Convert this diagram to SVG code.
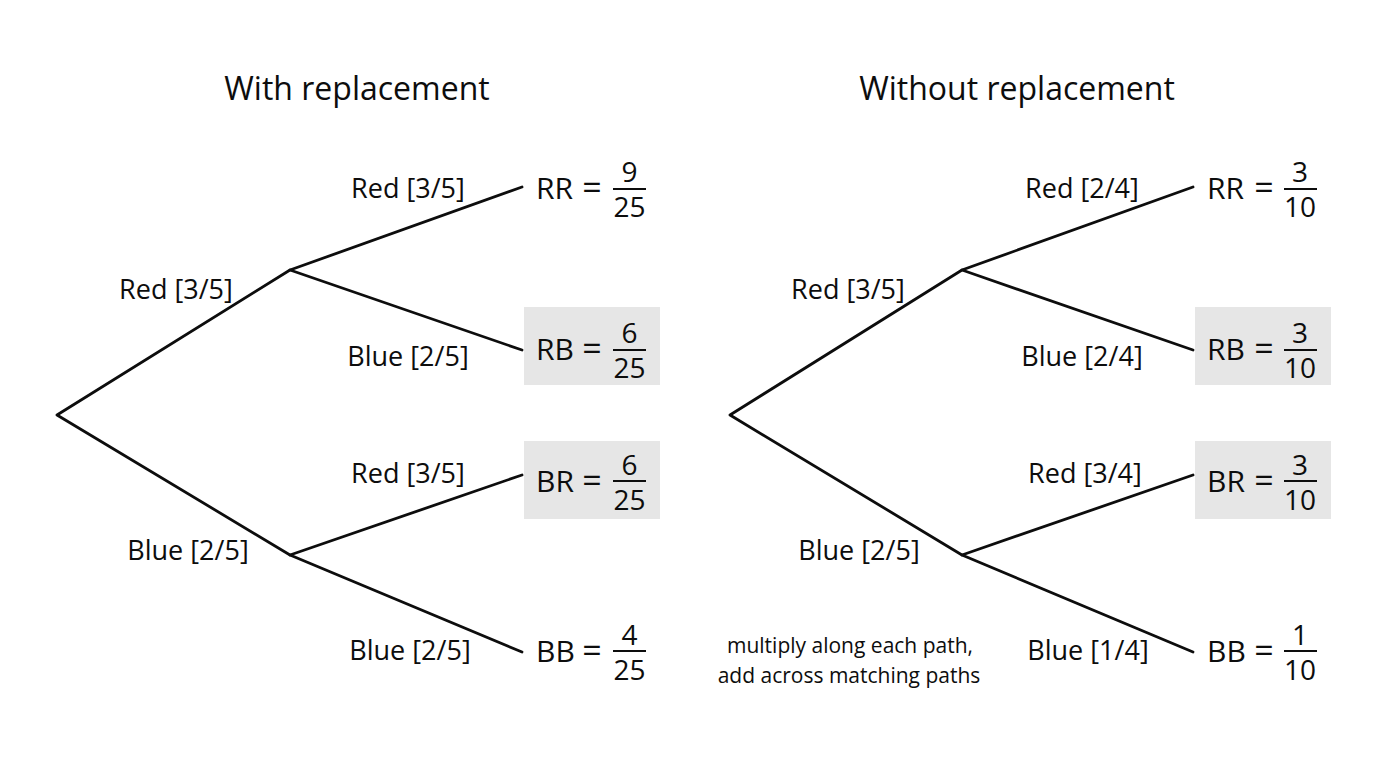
<svg xmlns="http://www.w3.org/2000/svg" width="1376" height="768" viewBox="0 0 1376 768">
<style>
.t{font-family:"Open Sans","Noto Sans","Liberation Sans",sans-serif;fill:#0d0d0d}
.title{font-size:32px;text-anchor:middle}
.br{font-size:27px;text-anchor:middle}
.res{font-size:30px}
.eq{font-size:34px;text-anchor:middle}
.num{font-size:28px;text-anchor:middle}
.note{font-size:21px;text-anchor:middle}
.edge{stroke:#0d0d0d;stroke-width:2.8;fill:none;stroke-linecap:round;stroke-linejoin:round}
.bar{stroke:#0d0d0d;stroke-width:2.2}
.box{fill:#e6e6e6}
</style>
<rect width="1376" height="768" fill="#ffffff"/>
<text class="t title" x="357" y="100">With replacement</text>
<text class="t title" x="1017" y="100">Without replacement</text>

<g id="connectors">
<path class="edge" d="M290,270 L57,415 L290,555"/>
<path class="edge" d="M522,187 L290,270 L522,350"/>
<path class="edge" d="M522,475 L290,555 L522,652"/>
<path class="edge" d="M962,270 L730,415 L962,555"/>
<path class="edge" d="M1193,187 L962,270 L1193,350"/>
<path class="edge" d="M1193,475 L962,555 L1193,652"/>
</g>

<g id="left-labels">
<text class="t br" x="176" y="299">Red [3/5]</text>
<text class="t br" x="188" y="560">Blue [2/5]</text>
<text class="t br" x="408" y="198">Red [3/5]</text>
<text class="t br" x="408" y="366">Blue [2/5]</text>
<text class="t br" x="408" y="483">Red [3/5]</text>
<text class="t br" x="410" y="660">Blue [2/5]</text>
</g>
<g id="right-labels">
<text class="t br" x="848" y="299">Red [3/5]</text>
<text class="t br" x="859" y="560">Blue [2/5]</text>
<text class="t br" x="1082" y="198">Red [2/4]</text>
<text class="t br" x="1082" y="366">Blue [2/4]</text>
<text class="t br" x="1085" y="483">Red [3/4]</text>
<text class="t br" x="1088" y="660">Blue [1/4]</text>
</g>

<g id="L-RR">
<text class="t res" x="536" y="199">RR</text>
<text class="t eq" x="592" y="200">=</text>
<text class="t num" x="629.5" y="182">9</text>
<line class="bar" x1="613" y1="189" x2="646" y2="189"/>
<text class="t num" x="629.5" y="217">25</text>
</g>
<g id="L-RB">
<rect class="box" x="524" y="307" width="136" height="78"/>
<text class="t res" x="536" y="360">RB</text>
<text class="t eq" x="592" y="361">=</text>
<text class="t num" x="629.5" y="343">6</text>
<line class="bar" x1="613" y1="350" x2="646" y2="350"/>
<text class="t num" x="629.5" y="378">25</text>
</g>
<g id="L-BR">
<rect class="box" x="524" y="441" width="136" height="78"/>
<text class="t res" x="536" y="492">BR</text>
<text class="t eq" x="592" y="493">=</text>
<text class="t num" x="629.5" y="475">6</text>
<line class="bar" x1="613" y1="481" x2="646" y2="481"/>
<text class="t num" x="629.5" y="510">25</text>
</g>
<g id="L-BB">
<text class="t res" x="536" y="662">BB</text>
<text class="t eq" x="592" y="663">=</text>
<text class="t num" x="629.5" y="645">4</text>
<line class="bar" x1="613" y1="651" x2="646" y2="651"/>
<text class="t num" x="629.5" y="680">25</text>
</g>

<g id="R-RR">
<text class="t res" x="1207" y="199">RR</text>
<text class="t eq" x="1264" y="200">=</text>
<text class="t num" x="1300" y="182">3</text>
<line class="bar" x1="1284" y1="189" x2="1317" y2="189"/>
<text class="t num" x="1300" y="217">10</text>
</g>
<g id="R-RB">
<rect class="box" x="1195" y="307" width="136" height="78"/>
<text class="t res" x="1207" y="360">RB</text>
<text class="t eq" x="1264" y="361">=</text>
<text class="t num" x="1300" y="343">3</text>
<line class="bar" x1="1284" y1="350" x2="1317" y2="350"/>
<text class="t num" x="1300" y="378">10</text>
</g>
<g id="R-BR">
<rect class="box" x="1195" y="441" width="136" height="78"/>
<text class="t res" x="1207" y="492">BR</text>
<text class="t eq" x="1264" y="493">=</text>
<text class="t num" x="1300" y="475">3</text>
<line class="bar" x1="1284" y1="481" x2="1317" y2="481"/>
<text class="t num" x="1300" y="510">10</text>
</g>
<g id="R-BB">
<text class="t res" x="1207" y="662">BB</text>
<text class="t eq" x="1264" y="663">=</text>
<text class="t num" x="1300" y="645">1</text>
<line class="bar" x1="1284" y1="651" x2="1317" y2="651"/>
<text class="t num" x="1300" y="680">10</text>
</g>

<g id="note">
<text class="t note" x="850" y="653">multiply along each path,</text>
<text class="t note" x="849" y="683">add across matching paths</text>
</g>
</svg>
